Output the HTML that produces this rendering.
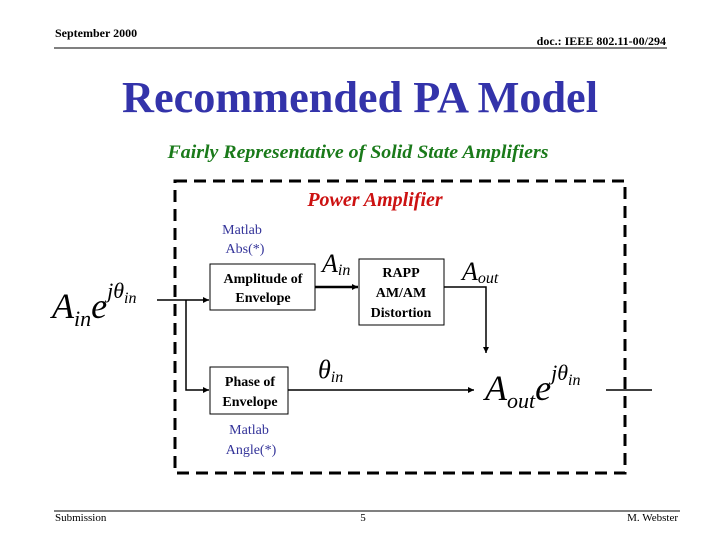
<!DOCTYPE html>
<html><head><meta charset="utf-8"><style>
body{margin:0;background:#fff;}
svg{display:block;font-family:"Liberation Serif",serif;}
</style></head><body>
<svg width="720" height="540" viewBox="0 0 720 540" xmlns="http://www.w3.org/2000/svg">
<defs><marker id="a" markerWidth="6" markerHeight="6" refX="6" refY="3" orient="auto" markerUnits="userSpaceOnUse"><path d="M0,0 L6,3 L0,6 z" fill="#000"/></marker></defs>
<text x="55" y="37" font-size="12" font-weight="bold">September 2000</text>
<text x="666" y="45" font-size="12" font-weight="bold" text-anchor="end">doc.: IEEE 802.11-00/294</text>
<line x1="54" y1="48" x2="667" y2="48" stroke="#000" stroke-width="1"/>
<text x="360" y="112" font-size="44" font-weight="bold" fill="#3333aa" text-anchor="middle" textLength="476" lengthAdjust="spacingAndGlyphs">Recommended PA Model</text>
<text x="358" y="158" font-size="19" font-weight="bold" font-style="italic" fill="#1a7a1a" text-anchor="middle" textLength="381" lengthAdjust="spacingAndGlyphs">Fairly Representative of Solid State Amplifiers</text>
<rect x="175" y="181" width="450" height="292" fill="none" stroke="#000" stroke-width="3" stroke-dasharray="12,7"/>
<text x="375" y="206" font-size="20" font-weight="bold" font-style="italic" fill="#cc1111" text-anchor="middle">Power Amplifier</text>
<g font-size="14" fill="#333399" text-anchor="middle">
<text x="242" y="234">Matlab</text><text x="245" y="253">Abs(*)</text>
<text x="249" y="434">Matlab</text><text x="251" y="454">Angle(*)</text>
</g>
<rect x="210" y="264" width="105" height="46" fill="#fff" stroke="#000"/>
<rect x="359" y="259" width="85" height="66" fill="#fff" stroke="#000"/>
<rect x="210" y="367" width="78" height="47" fill="#fff" stroke="#000"/>
<g font-size="14" text-anchor="middle" font-weight="bold">
<text x="263" y="283">Amplitude of</text><text x="263" y="302">Envelope</text>
<text x="401" y="277">RAPP</text><text x="401" y="297">AM/AM</text><text x="401" y="317">Distortion</text>
<text x="250" y="386">Phase of</text><text x="250" y="406">Envelope</text>
</g>
<g stroke="#000" stroke-width="1.5" fill="none">
<line x1="157" y1="300" x2="209" y2="300" marker-end="url(#a)"/>
<polyline points="186,300 186,390 209,390" marker-end="url(#a)"/>
<line x1="315" y1="287" x2="358" y2="287" stroke-width="2.5" marker-end="url(#a)"/>
<polyline points="444,287 486,287 486,353" marker-end="url(#a)"/>
<line x1="288" y1="390" x2="474" y2="390" marker-end="url(#a)"/>
<line x1="606" y1="390" x2="652" y2="390"/>
</g>
<g font-style="italic" fill="#000">
<text x="52" y="318" font-size="36">A<tspan font-size="22" dy="8">in</tspan><tspan font-size="36" dy="-8">e</tspan><tspan font-size="22" dy="-20">jθ</tspan><tspan font-size="16" dy="5">in</tspan></text>
<text x="322" y="272" font-size="26">A<tspan font-size="16" dy="3">in</tspan></text>
<text x="462" y="280" font-size="26">A<tspan font-size="16" dy="3">out</tspan></text>
<text x="318" y="378" font-size="26">θ<tspan font-size="16" dy="4">in</tspan></text>
<text x="485" y="400" font-size="36">A<tspan font-size="22" dy="8">out</tspan><tspan font-size="36" dy="-8">e</tspan><tspan font-size="22" dy="-20">jθ</tspan><tspan font-size="16" dy="5">in</tspan></text>
</g>
<line x1="54" y1="511" x2="680" y2="511" stroke="#000" stroke-width="1"/>
<g font-size="11">
<text x="55" y="521">Submission</text>
<text x="363" y="521" text-anchor="middle">5</text>
<text x="678" y="521" text-anchor="end">M. Webster</text>
</g>
</svg>
</body></html>
